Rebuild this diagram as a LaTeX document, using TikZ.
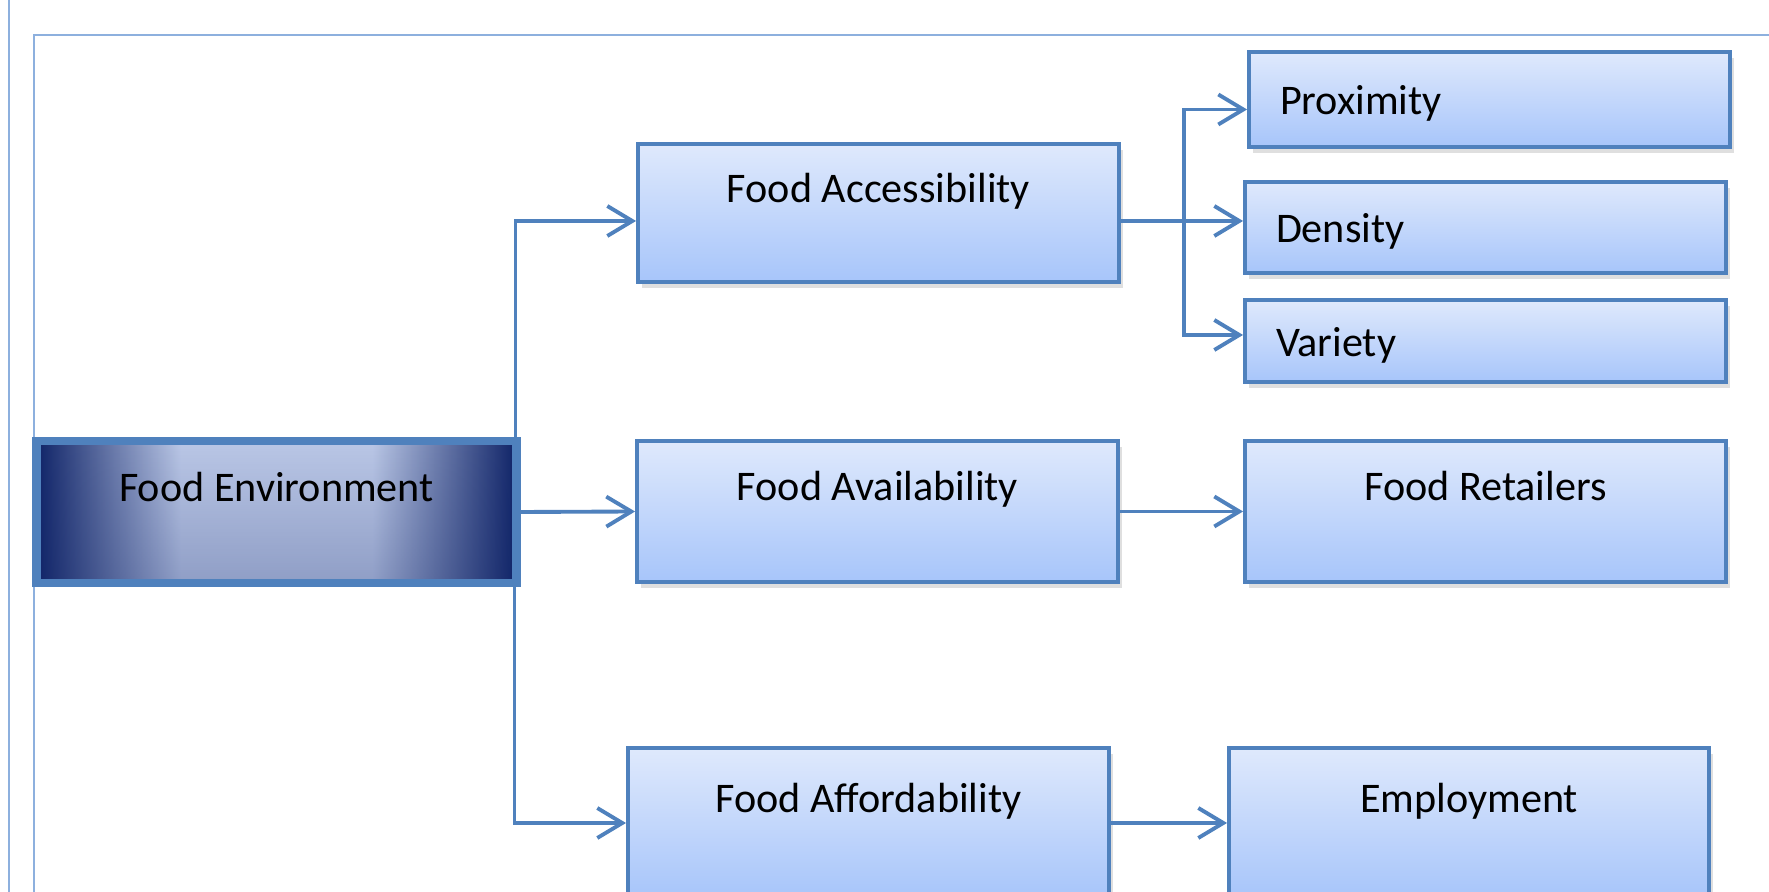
\documentclass[tikz,border=0pt]{standalone}
\usepackage{fontspec}
\setmainfont{Carlito}
\usetikzlibrary{arrows.meta,shadows,fadings}

\definecolor{boxline}{RGB}{79,129,189}
\definecolor{boxtop}{RGB}{223,233,252}
\definecolor{boxbottom}{RGB}{167,197,250}
\definecolor{navy}{RGB}{16,36,104}
\definecolor{paleblue}{RGB}{186,199,230}
\definecolor{frameblue}{RGB}{141,176,222}
\pgfdeclarehorizontalshading{envshade}{100bp}{color(0bp)=(navy); color(25bp)=(navy);
  color(40bp)=(paleblue); color(60bp)=(paleblue); color(75bp)=(navy); color(100bp)=(navy)}

\begin{document}
\begin{tikzpicture}[font=\fontsize{12}{14}\selectfont,
  >={Straight Barb[length=2.5mm,width=3mm]},
  link/.style={->, boxline, line width=1.1pt},
  bluebox/.style={draw=boxline, line width=1.1pt, top color=boxtop, bottom color=boxbottom,
    drop shadow={opacity=.25,shadow xshift=.4mm,shadow yshift=-.6mm}},
  mainbox/.style={bluebox, minimum width=4.81cm, text height=3mm, text depth=5.1mm},
  subbox/.style={bluebox, text width=4.19cm, inner xsep=3.1mm, align=left, text height=3.4mm, text depth=.3mm}]
\clip (0,0) rectangle (17.69,8.92);
% page lines
\draw[frameblue, line width=.7pt] (0.09,0) -- (0.09,8.92);
\draw[frameblue, line width=.7pt] (0.34,0) |- (17.69,8.57);

% root
\node[draw=boxline, line width=2.3pt, shading=envshade,
  path picture={\fill[navy, opacity=.25, path fading=north] (path picture bounding box.south west) rectangle (path picture bounding box.north east);},
  minimum width=4.8cm, minimum height=1.42cm, text height=3mm, text depth=5.1mm] (env) at (2.765,3.80) {Food Environment};

% middle column
\node[mainbox, minimum height=1.38cm] (acc) at (8.785,6.79) {Food Accessibility};
\node[mainbox, minimum height=1.41cm] (avail) at (8.775,3.805) {Food Availability};
\node[mainbox, minimum height=1.5cm] (afford) at (8.685,0.69) {Food Affordability};

% right column
\node[subbox, minimum height=.95cm] (prox) at (14.895,7.925) {Proximity};
\node[subbox, minimum height=.91cm] (dens) at (14.855,6.645) {Density};
\node[subbox, minimum height=.82cm] (var) at (14.855,5.51) {Variety};
\node[mainbox, minimum height=1.41cm] (ret) at (14.855,3.805) {Food Retailers};
\node[mainbox, minimum width=4.8cm, minimum height=1.5cm] (emp) at (14.69,0.69) {Employment};

% connectors
\draw[link] ([xshift=-.5mm]env.north east) |- ([yshift=-.8mm]acc.west);
\draw[link] (env.east) -- (avail.west);
\draw[link] ([xshift=-.6mm]env.south east) |- (afford.west);

\draw[link] ([yshift=-.8mm]acc.east) -- ([yshift=-.8mm]acc.east -| dens.west);
\coordinate (fork) at (11.84,6.71);
\draw[link] (fork) |- ([yshift=-1mm]prox.west);
\draw[link] (fork) |- ([yshift=.6mm]var.west);

\draw[link] (avail.east) -- (ret.west);
\draw[link] (afford.east) -- (emp.west);
\end{tikzpicture}
\end{document}
